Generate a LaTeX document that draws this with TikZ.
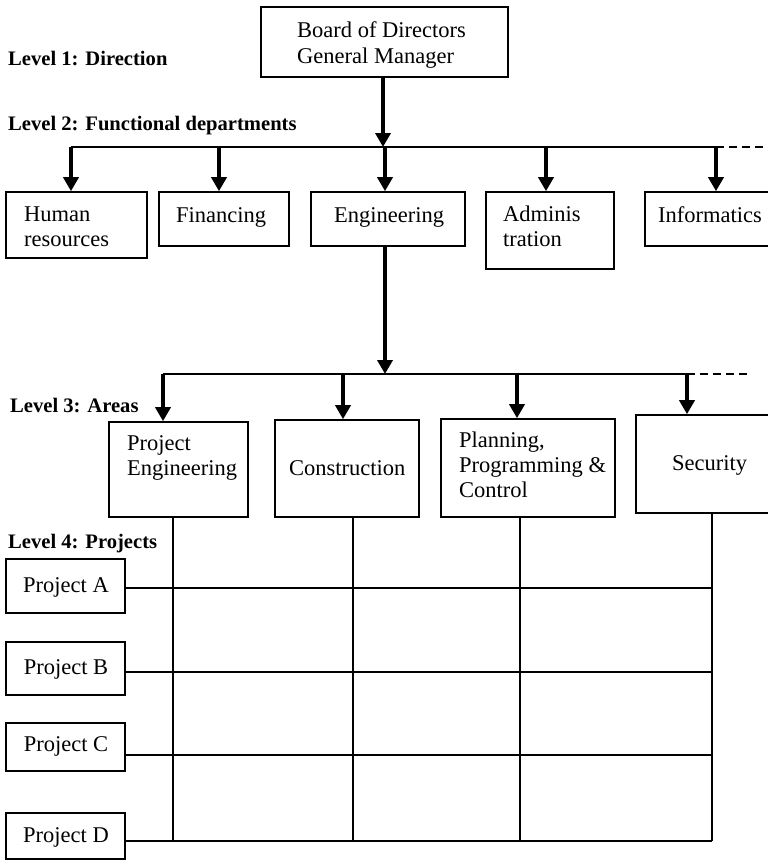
\documentclass[tikz,border=0pt]{standalone}
\usepackage{fontspec}
\setmainfont{Liberation Serif}
\usetikzlibrary{arrows.meta,fit}
\begin{document}
\begin{tikzpicture}[x=1pt,y=-1pt,
  box/.style={draw, line width=1.6pt, inner sep=0pt},
  % multi-line texts are anchored at the baseline of their last line
  txt/.style={inner sep=0pt, anchor=base west, align=left,
              font=\fontsize{22.5}{25}\selectfont},
  ctxt/.style={inner sep=0pt, anchor=base, font=\fontsize{22.5}{25}\selectfont},
  lvl/.style={inner sep=0pt, anchor=base west,
              font=\fontsize{20.6}{24}\selectfont\bfseries},
  down/.style={line width=3.5pt, -{Triangle[width=15pt,length=14pt]}},
  bus/.style={line width=1.8pt},
  dashext/.style={line width=1.8pt, dash pattern=on 8pt off 5pt},
  gridline/.style={line width=1.8pt},
]
\useasboundingbox (0,0) rectangle (768,860);
\clip (0,0) rectangle (768,860);

% level captions
\node[lvl] (l1) at (8,65)  {Level 1: Direction};
\node[lvl] (l2) at (8,130) {Level 2: Functional departments};
\node[lvl] (l3) at (10,412) {Level 3: Areas};
\node[lvl] (l4) at (8,548) {Level 4: Projects};

% level 1
\node[box, fit={(261,7) (508,77)}] (bod) {};
\node[txt, font=\fontsize{22.5}{26}\selectfont] (bodt) at (297,63)
  {Board of Directors\\General Manager};

% level 2 departments
\node[box, fit={(6,192) (147,258)}]   (hr)  {};
\node[box, fit={(159,192) (289,246)}] (fin) {};
\node[box, fit={(311,192) (465,246)}] (eng) {};
\node[box, fit={(486,192) (614,269)}] (adm) {};
\node[box, fit={(645,192) (790,246)}] (inf) {};
\node[txt] (hrt)  at (24,246)  {Human\\resources};
\node[txt] (fint) at (176,222) {Financing};
\node[txt] (engt) at (334,222) {Engineering};
\node[txt] (admt) at (503,246) {Adminis\\tration};
\node[txt] (inft) at (658,222) {Informatics};

% bus of level 2
\coordinate (b1)    at (383,147);
\coordinate (b1hr)  at (71,147);
\coordinate (b1fin) at (219,147);
\coordinate (b1eng) at (385,147);
\coordinate (b1adm) at (546,147);
\coordinate (b1inf) at (716,147);
\coordinate (b1end) at (768,147);
\draw[down] (bod.south -| b1) -- (b1);
\draw[bus] (b1hr) -- (b1inf);
\draw[dashext] (b1inf) -- (b1end);
\foreach \c/\n in {b1hr/hr, b1fin/fin, b1eng/eng, b1adm/adm, b1inf/inf}
  \draw[down] (\c) -- (\c |- \n.north);

% level 3 areas
\node[box, fit={(109,422) (248,517)}] (pe)  {};
\node[box, fit={(275,420) (419,517)}] (con) {};
\node[box, fit={(441,419) (615,517)}] (ppc) {};
\node[box, fit={(636,415) (790,513)}] (sec) {};
\node[txt] (pet)  at (127,475) {Project\\Engineering};
\node[txt] (cont) at (289,475) {Construction};
\node[txt] (ppct) at (459,497) {Planning,\\Programming \&\\Control};
\node[txt] (sect) at (672,470) {Security};

% bus of level 3
\coordinate (b2)    at (385,374);
\coordinate (b2pe)  at (163,374);
\coordinate (b2con) at (343,374);
\coordinate (b2ppc) at (517,374);
\coordinate (b2sec) at (687,374);
\coordinate (b2end) at (747,374);
\draw[down] (eng.south -| b2) -- (b2);
\draw[bus] (b2pe) -- (b2sec);
\draw[dashext] (b2sec) -- (b2end);
\foreach \c/\n in {b2pe/pe, b2con/con, b2ppc/ppc, b2sec/sec}
  \draw[down] (\c) -- (\c |- \n.north);

% level 4 projects
\node[box, fit={(6,559) (125,613)}] (pa) {};
\node[box, fit={(6,642) (125,695)}] (pb) {};
\node[box, fit={(6,723) (125,771)}] (pc) {};
\node[box, fit={(6,813) (125,859)}] (pd) {};
\node[ctxt] (pat) at (66,592) {Project A};
\node[ctxt] (pbt) at (66,674) {Project B};
\node[ctxt] (pct) at (66,751) {Project C};
\node[ctxt] (pdt) at (66,842) {Project D};

% matrix of areas and projects
\coordinate (vpe)  at (173,841);
\coordinate (vcon) at (353,841);
\coordinate (vppc) at (520,841);
\coordinate (vsec) at (712,841);
\coordinate (ra) at (712,588);
\coordinate (rb) at (712,672);
\coordinate (rc) at (712,755);
\coordinate (rd) at (712,841);
\foreach \v/\n in {vpe/pe, vcon/con, vppc/ppc, vsec/sec}
  \draw[gridline] (\v |- \n.south) -- (\v);
\foreach \r/\n in {ra/pa, rb/pb, rc/pc, rd/pd}
  \draw[gridline] (\n.east |- \r) -- (\r);
\end{tikzpicture}
\end{document}
